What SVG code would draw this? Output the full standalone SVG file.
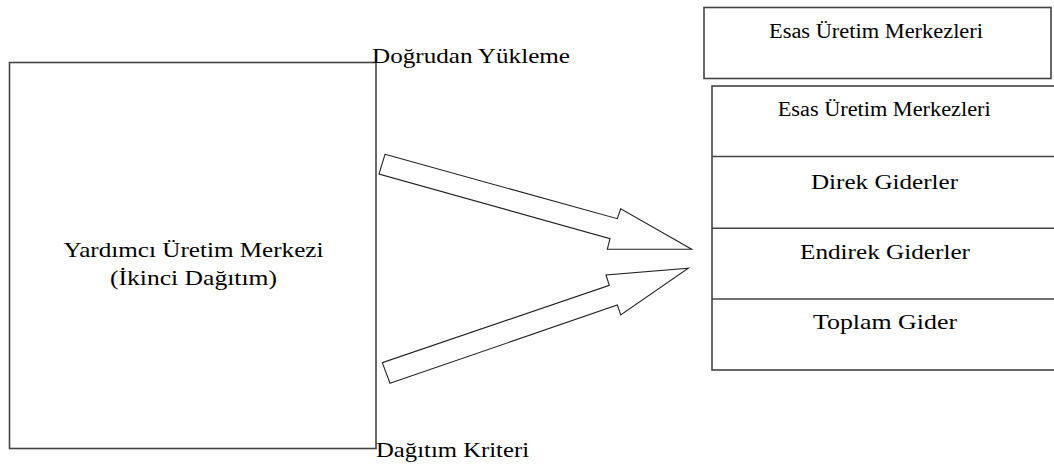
<svg xmlns="http://www.w3.org/2000/svg" width="1054" height="467" viewBox="0 0 1054 467">
<style>
.box{fill:#fff;stroke:#444;stroke-width:1.6}
.div{stroke:#444;stroke-width:1.5}
.arr{fill:#fff;stroke:#222;stroke-width:1.1;stroke-linejoin:miter}
text{font-family:"Liberation Serif","Times New Roman",serif;fill:#000}
.s20{font-size:20px}
.s22{font-size:22px}
</style>
<rect width="1054" height="467" fill="#fff"/>
<g id="yardimci">
<rect class="box" x="9.5" y="62.5" width="366.5" height="386"/>
<text class="s22" x="63.5" y="257" textLength="260" lengthAdjust="spacingAndGlyphs">Yardımcı Üretim Merkezi</text>
<text class="s22" x="110" y="285" textLength="167" lengthAdjust="spacingAndGlyphs">(İkinci Dağıtım)</text>
</g>
<g id="esas-top">
<rect class="box" x="704" y="7.5" width="347" height="71"/>
<text class="s20" x="769" y="37.5" textLength="214" lengthAdjust="spacingAndGlyphs">Esas Üretim Merkezleri</text>
</g>
<g id="esas-table">
<rect class="box" x="712" y="86" width="346" height="284"/>
<line class="div" x1="712" y1="156.5" x2="1058" y2="156.5"/>
<line class="div" x1="712" y1="228.3" x2="1058" y2="228.3"/>
<line class="div" x1="712" y1="299" x2="1058" y2="299"/>
<text class="s20" x="777.7" y="116" textLength="213" lengthAdjust="spacingAndGlyphs">Esas Üretim Merkezleri</text>
<text class="s22" x="811" y="188.5" textLength="147" lengthAdjust="spacingAndGlyphs">Direk Giderler</text>
<text class="s22" x="800" y="259" textLength="170" lengthAdjust="spacingAndGlyphs">Endirek Giderler</text>
<text class="s22" x="813" y="329" textLength="144" lengthAdjust="spacingAndGlyphs">Toplam Gider</text>
</g>
<g id="labels">
<text class="s22" x="372" y="63.3" textLength="198" lengthAdjust="spacingAndGlyphs">Doğrudan Yükleme</text>
<text class="s22" x="376" y="457.3" textLength="153" lengthAdjust="spacingAndGlyphs">Dağıtım Kriteri</text>
</g>
<g id="connectors">
<polygon class="arr" points="385,154.3 617.3,218.7 620.7,208.7 691.7,249.3 607.3,249.3 610,238.7 379,174"/>
<polygon class="arr" points="390,383.3 617.3,305 620.7,315 688.3,268.3 606,275 609.3,285.3 382.3,362.7"/>
</g>
</svg>
